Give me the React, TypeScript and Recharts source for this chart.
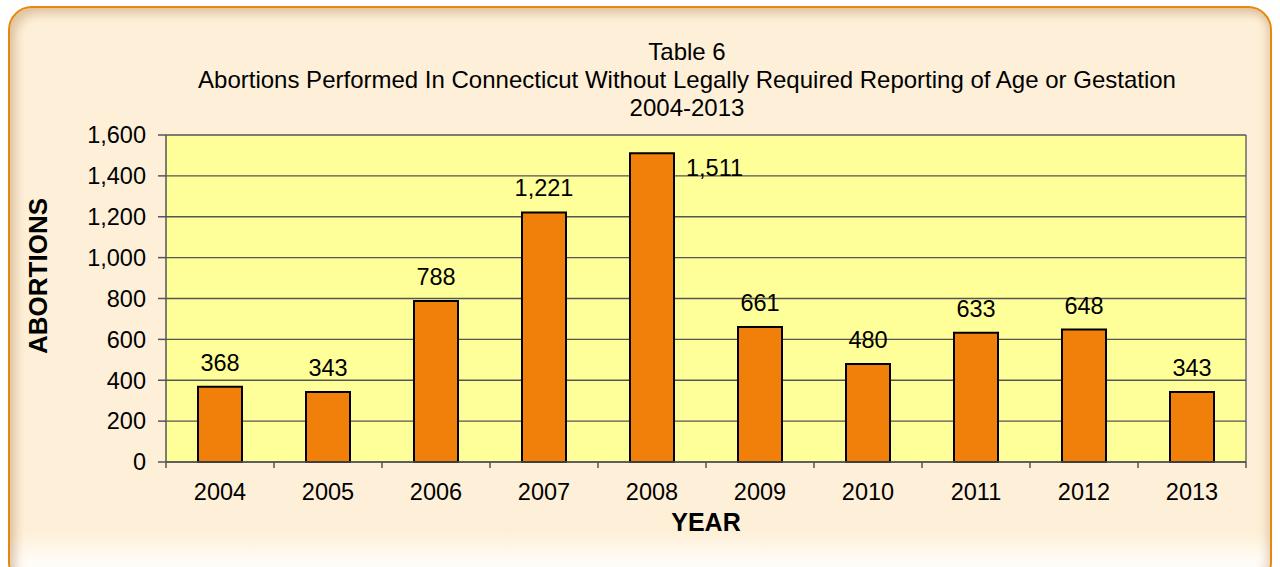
import { Bar, BarChart, CartesianGrid, LabelList, XAxis, YAxis } from 'recharts';

const years = ['2004', '2005', '2006', '2007', '2008', '2009', '2010', '2011', '2012', '2013'];
const abortions = [368, 343, 788, 1221, 1511, 661, 480, 633, 648, 343];
const yTicks = [0, 200, 400, 600, 800, 1000, 1200, 1400, 1600];
const titleLines = [
  'Table 6',
  'Abortions Performed In Connecticut Without Legally Required Reporting of Age or Gestation',
  '2004-2013',
];

const data = years.map((year, i) => ({ year, value: abortions[i] }));

const W = 1280;
const H = 567;
const yAxisW = 60;
const xAxisH = 30;
// plot area: x 166..1246, y 135..462
const margin = { top: 135, right: 34, bottom: 105 - xAxisH, left: 166 - yAxisW };
const band = (W - 166 - 34) / years.length;
const font = '"Liberation Sans", Arial, sans-serif';

function fmt(v: number) {
  return v.toLocaleString('en-US');
}

function YearTick(props: any) {
  const { x, y, payload, index } = props;
  const left = x - band / 2;
  return (
    <g>
      <line x1={left} y1={y - 8} x2={left} y2={y - 2} stroke="#555" strokeWidth={1.5} />
      {index === years.length - 1 && (
        <line x1={left + band} y1={y - 8} x2={left + band} y2={y - 2} stroke="#555" strokeWidth={1.5} />
      )}
      <text x={x} y={y + 30} textAnchor="middle" fontSize={23.5} fill="#000" fontFamily={font}>
        {payload.value}
      </text>
    </g>
  );
}

function ValueLabel(props: any) {
  const { x, y, width, value, index } = props;
  // the 2008 label sits beside its bar instead of over it
  if (index === 4) {
    return (
      <text x={x + width + 12} y={y + 23} fontSize={23.5} fill="#000" fontFamily={font}>
        {fmt(value)}
      </text>
    );
  }
  return (
    <text x={x + width / 2} y={y - 16} textAnchor="middle" fontSize={23.5} fill="#000" fontFamily={font}>
      {fmt(value)}
    </text>
  );
}

export default function App() {
  return (
    <div style={{ position: 'absolute', left: 0, top: 0, width: W, height: H, overflow: 'hidden', background: '#fff' }}>
      <div
        style={{
          position: 'absolute',
          left: 8,
          top: 6,
          width: 1264,
          height: 580,
          boxSizing: 'border-box',
          border: '2px solid #E8860F',
          borderRadius: 24,
          background: 'linear-gradient(to bottom, #FEF0D8 0%, #FEF0D8 91%, #FFFCF6 96%, #FFFFFF 100%)',
          boxShadow: 'inset 6px 6px 10px rgba(170,120,70,0.35), inset -4px -4px 8px rgba(170,120,70,0.25)',
        }}
      />
      <div style={{ position: 'absolute', left: 0, top: 0 }}>
        <BarChart width={W} height={H} data={data} margin={margin} barSize={44}>
          <CartesianGrid
            fill="#FFFF99"
            stroke="#555"
            strokeWidth={1.3}
            verticalCoordinatesGenerator={({ offset }: any) => [offset.left + offset.width]}
          />
          <XAxis
            dataKey="year"
            height={xAxisH}
            axisLine={{ stroke: '#555', strokeWidth: 1.5 }}
            tickLine={false}
            tick={<YearTick />}
            interval={0}
          />
          <YAxis
            domain={[0, 1600]}
            ticks={yTicks}
            tickFormatter={fmt}
            axisLine={{ stroke: '#555', strokeWidth: 1.5 }}
            tickLine={{ stroke: '#555', strokeWidth: 1.5 }}
            tickSize={8}
            tickMargin={12}
            tick={{ fontSize: 23.5, fill: '#000', fontFamily: font }}
            width={yAxisW}
          />
          <Bar dataKey="value" fill="#F0800A" stroke="#000" strokeWidth={2} isAnimationActive={false}>
            <LabelList dataKey="value" content={<ValueLabel />} />
          </Bar>
          {titleLines.map((line, i) => (
            <text key={i} x={687} y={60 + i * 28} textAnchor="middle" fontSize={24} fill="#000" fontFamily={font}>
              {line}
            </text>
          ))}
          <text
            x={38}
            y={276}
            dy={9}
            transform="rotate(-90 38 276)"
            textAnchor="middle"
            fontSize={26}
            fontWeight="bold"
            fill="#000"
            fontFamily={font}
          >
            ABORTIONS
          </text>
          <text x={706} y={531} textAnchor="middle" fontSize={25} fontWeight="bold" fill="#000" fontFamily={font}>
            YEAR
          </text>
        </BarChart>
      </div>
    </div>
  );
}
